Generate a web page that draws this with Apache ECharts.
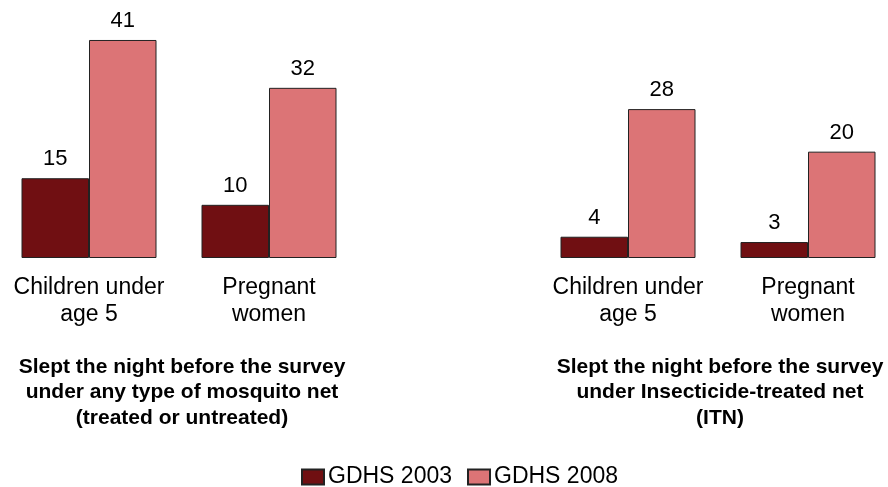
<!DOCTYPE html>
<html>
<head>
<meta charset="utf-8">
<script src="https://cdn.jsdelivr.net/npm/echarts@6/dist/echarts.min.js"></script>
<style>html,body{margin:0;padding:0;background:#fff}#c{width:888px;height:487px}</style>
</head>
<body>
<div id="c"></div>
<script>
var categories = ['Children under\nage 5', 'Pregnant\nwomen'];
var seriesNames = ['GDHS 2003', 'GDHS 2008'];
var anyNet2003 = [15, 10];
var anyNet2008 = [41, 32];
var itn2003 = [4, 3];
var itn2008 = [28, 20];
var panelTitles = [
  'Slept the night before the survey\nunder any type of mosquito net\n(treated or untreated)',
  'Slept the night before the survey\nunder Insecticide-treated net\n(ITN)'
];

var FONT = 'Liberation Sans, Arial, sans-serif';
var DARK = '#700F12';
var PINK = '#DC7476';

function xAxisFor(idx) {
  return {
    type: 'category', gridIndex: idx, data: categories,
    axisLine: {show: false}, axisTick: {show: false},
    axisLabel: {interval: 0, hideOverlap: false, fontFamily: FONT, fontSize: 23, color: '#000', margin: 16, lineHeight: 27}
  };
}
function yAxisFor(idx) {
  return {type: 'value', gridIndex: idx, min: 0, max: 45, show: false, splitLine: {show: false}};
}
function barSeries(name, data, idx, color) {
  return {
    type: 'bar', name: name, data: data, xAxisIndex: idx, yAxisIndex: idx,
    barWidth: 67.5, barGap: '0%',
    itemStyle: {color: color, borderColor: '#222', borderWidth: 1},
    label: {show: true, position: 'top', distance: 8, fontFamily: FONT, fontSize: 22, color: '#000'}
  };
}

var chart = echarts.init(document.getElementById('c'), null, {renderer: 'canvas'});
chart.setOption({
  animation: false,
  backgroundColor: '#fff',
  grid: [
    {left: -1, top: 18.7, width: 360, height: 239.3, outerBoundsMode: 'none', containLabel: false},
    {left: 538, top: 18.7, width: 360, height: 239.3, outerBoundsMode: 'none', containLabel: false}
  ],
  xAxis: [xAxisFor(0), xAxisFor(1)],
  yAxis: [yAxisFor(0), yAxisFor(1)],
  legend: {
    data: seriesNames, left: 301, top: 465.5, padding: 0,
    itemWidth: 22, itemHeight: 15, itemGap: 15,
    icon: 'rect',
    textStyle: {fontFamily: FONT, fontSize: 23, color: '#000', lineHeight: 23, padding: [0, 0, 0, -1]}
  },
  graphic: [
    {type: 'text', x: 182, y: 354, style: {text: panelTitles[0], fill: '#000', fontFamily: FONT, fontSize: 21, fontWeight: 'bold', align: 'center', verticalAlign: 'top', lineHeight: 25.5}},
    {type: 'text', x: 720, y: 354, style: {text: panelTitles[1], fill: '#000', fontFamily: FONT, fontSize: 21, fontWeight: 'bold', align: 'center', verticalAlign: 'top', lineHeight: 25.5}}
  ],
  series: [
    barSeries(seriesNames[0], anyNet2003, 0, DARK),
    barSeries(seriesNames[1], anyNet2008, 0, PINK),
    barSeries(seriesNames[0], itn2003, 1, DARK),
    barSeries(seriesNames[1], itn2008, 1, PINK)
  ]
});
</script>
</body>
</html>
